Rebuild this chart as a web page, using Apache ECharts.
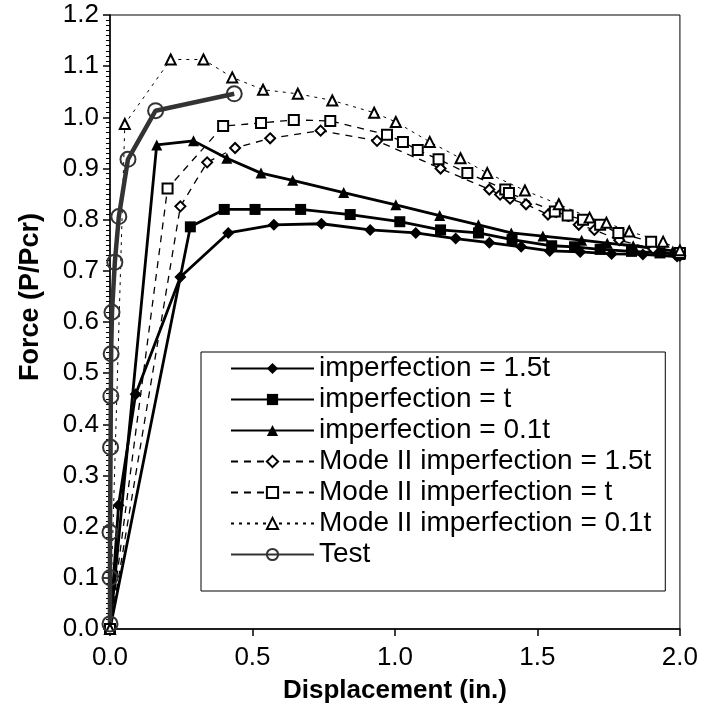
<!DOCTYPE html>
<html>
<head>
<meta charset="utf-8">
<script src="https://cdn.jsdelivr.net/npm/echarts@6/dist/echarts.min.js"></script>
<style>
html,body{margin:0;padding:0;background:#fff;}
#chart{width:701px;height:709px;}
</style>
</head>
<body>
<div id="chart"></div>
<script>
// ---- data ----
const imp15X = [0, 0.03, 0.09, 0.247, 0.415, 0.575, 0.742, 0.913, 1.073, 1.213, 1.331, 1.443, 1.543, 1.65, 1.76, 1.87, 1.99];
const imp15Y = [0.0, 0.242, 0.459, 0.688, 0.774, 0.79, 0.792, 0.78, 0.774, 0.763, 0.755, 0.747, 0.739, 0.737, 0.733, 0.732, 0.728];

const impTX = [0, 0.282, 0.401, 0.509, 0.669, 0.843, 1.017, 1.16, 1.293, 1.411, 1.55, 1.63, 1.72, 1.83, 1.93, 2.0];
const impTY = [0, 0.786, 0.82, 0.82, 0.82, 0.81, 0.796, 0.78, 0.774, 0.761, 0.749, 0.747, 0.742, 0.738, 0.735, 0.732];

const imp01X = [0, 0.164, 0.293, 0.41, 0.53, 0.641, 0.82, 1.003, 1.157, 1.293, 1.408, 1.519, 1.655, 1.745, 1.836, 1.975, 2.0];
const imp01Y = [0, 0.946, 0.954, 0.92, 0.891, 0.877, 0.853, 0.829, 0.808, 0.79, 0.774, 0.768, 0.76, 0.754, 0.749, 0.739, 0.733];

const m15X = [0, 0.247, 0.341, 0.439, 0.562, 0.739, 0.937, 1.16, 1.331, 1.369, 1.404, 1.46, 1.537, 1.645, 1.70, 1.787, 1.906, 2.0];
const m15Y = [0, 0.826, 0.912, 0.94, 0.959, 0.974, 0.954, 0.9, 0.859, 0.849, 0.841, 0.83, 0.81, 0.79, 0.78, 0.76, 0.743, 0.73];

const mTX = [0, 0.202, 0.397, 0.53, 0.645, 0.773, 0.972, 1.028, 1.08, 1.153, 1.254, 1.387, 1.40, 1.561, 1.606, 1.66, 1.72, 1.784, 1.899, 2.0];
const mTY = [0, 0.861, 0.983, 0.989, 0.995, 0.993, 0.966, 0.952, 0.936, 0.918, 0.891, 0.859, 0.852, 0.816, 0.808, 0.80, 0.79, 0.774, 0.757, 0.735];

const m01X = [0, 0.052, 0.213, 0.328, 0.429, 0.537, 0.659, 0.78, 0.927, 1.003, 1.122, 1.23, 1.324, 1.456, 1.575, 1.683, 1.742, 1.822, 1.941, 2.0];
const m01Y = [0, 0.987, 1.113, 1.113, 1.078, 1.054, 1.046, 1.033, 1.009, 0.991, 0.952, 0.92, 0.891, 0.857, 0.83, 0.804, 0.794, 0.777, 0.757, 0.74];

const testX = [0, 0, 0, 0.002, 0.003, 0.004, 0.007, 0.017, 0.031, 0.063, 0.16, 0.436];
const testY = [0.01, 0.1, 0.189, 0.355, 0.455, 0.538, 0.619, 0.717, 0.806, 0.918, 1.013, 1.046];

const seriesNames = [
  'imperfection = 1.5t',
  'imperfection = t',
  'imperfection = 0.1t',
  'Mode II imperfection = 1.5t',
  'Mode II imperfection = t',
  'Mode II imperfection = 0.1t',
  'Test'
];

const xTicks = [0, 0.5, 1.0, 1.5, 2.0];
const yTicks = [0, 0.1, 0.2, 0.3, 0.4, 0.5, 0.6, 0.7, 0.8, 0.9, 1.0, 1.1, 1.2];

function pairs(xs, ys) { return xs.map((x, i) => [x, ys[i]]); }

const FONT = "'Liberation Sans', Arial, sans-serif";

function solidSeries(name, xs, ys, symbol, size) {
  return {
    name, type: 'line', data: pairs(xs, ys),
    symbol, symbolSize: size,
    lineStyle: { color: '#000', width: 2.8, type: 'solid' },
    itemStyle: { color: '#000', borderColor: '#000', borderWidth: 0 }
  };
}
function dashedSeries(name, xs, ys, symbol, size, dash, width) {
  return {
    name, type: 'line', data: pairs(xs, ys),
    symbol, symbolSize: size,
    lineStyle: { color: '#000', width: width, type: dash },
    itemStyle: { color: '#fff', borderColor: '#000', borderWidth: 2 }
  };
}

const chart = echarts.init(document.getElementById('chart'), null, { renderer: 'canvas' });

const option = {
  animation: false,
  backgroundColor: '#fff',
  textStyle: { fontFamily: FONT },
  grid: {
    left: 110, right: 21, top: 15, bottom: 80,
    show: true, borderColor: '#000', borderWidth: 1, backgroundColor: 'transparent'
  },
  legend: {
    orient: 'vertical',
    left: 201, top: 352,
    padding: [1, 14, 21, 29],
    itemWidth: 83, itemHeight: 14, itemGap: 0,
    backgroundColor: '#fff',
    borderColor: '#000', borderWidth: 1, borderRadius: 0,
    textStyle: { fontFamily: FONT, fontSize: 28, color: '#000', lineHeight: 31, padding: [0, 0, 0, 0] },
    data: seriesNames
  },
  xAxis: {
    type: 'value', min: 0, max: 2, interval: 0.5,
    name: 'Displacement (in.)', nameLocation: 'middle', nameGap: 49,
    nameTextStyle: { fontFamily: FONT, fontSize: 26, fontWeight: 'bold', color: '#000' },
    axisLine: { show: true, onZero: false, lineStyle: { color: '#000', width: 1.5 } },
    axisTick: { show: true, inside: false, length: 7, lineStyle: { color: '#000', width: 1.5 } },
    axisLabel: {
      fontFamily: FONT, fontSize: 26, color: '#000', margin: 16,
      customValues: xTicks,
      formatter: v => v.toFixed(1)
    },
    splitLine: { show: false }
  },
  yAxis: {
    type: 'value', min: 0, max: 1.2, interval: 0.1,
    name: 'Force (P/Pcr)', nameLocation: 'middle', nameGap: 66,
    nameTextStyle: { fontFamily: FONT, fontSize: 27, fontWeight: 'bold', color: '#000', padding: [0, 0, 0, 50] },
    axisLine: { show: true, onZero: false, lineStyle: { color: '#000', width: 1.5 } },
    axisTick: { show: true, inside: false, length: 7, lineStyle: { color: '#000', width: 1.5 } },
    minorTick: { show: true, splitNumber: 10, length: 4, lineStyle: { color: '#000', width: 1 } },
    axisLabel: {
      fontFamily: FONT, fontSize: 26, color: '#000', margin: 11,
      formatter: v => v.toFixed(1)
    },
    splitLine: { show: false }
  },
  series: [
    solidSeries(seriesNames[0], imp15X, imp15Y, 'diamond', 12),
    solidSeries(seriesNames[1], impTX, impTY, 'rect', 11),
    solidSeries(seriesNames[2], imp01X, imp01Y, 'triangle', 11),
    dashedSeries(seriesNames[3], m15X, m15Y, 'diamond', 10, [7, 6], 1.3),
    dashedSeries(seriesNames[4], mTX, mTY, 'rect', 10, [7, 6], 1.3),
    dashedSeries(seriesNames[5], m01X, m01Y, 'triangle', 10, [3, 5], 1),
    {
      name: seriesNames[6], type: 'line', data: pairs(testX, testY),
      symbol: 'circle', symbolSize: 15,
      lineStyle: { color: '#333', width: 4.5 },
      itemStyle: { color: 'none', borderColor: '#333', borderWidth: 2 },
      z: 3
    }
  ]
};

chart.setOption(option);
</script>
</body>
</html>
